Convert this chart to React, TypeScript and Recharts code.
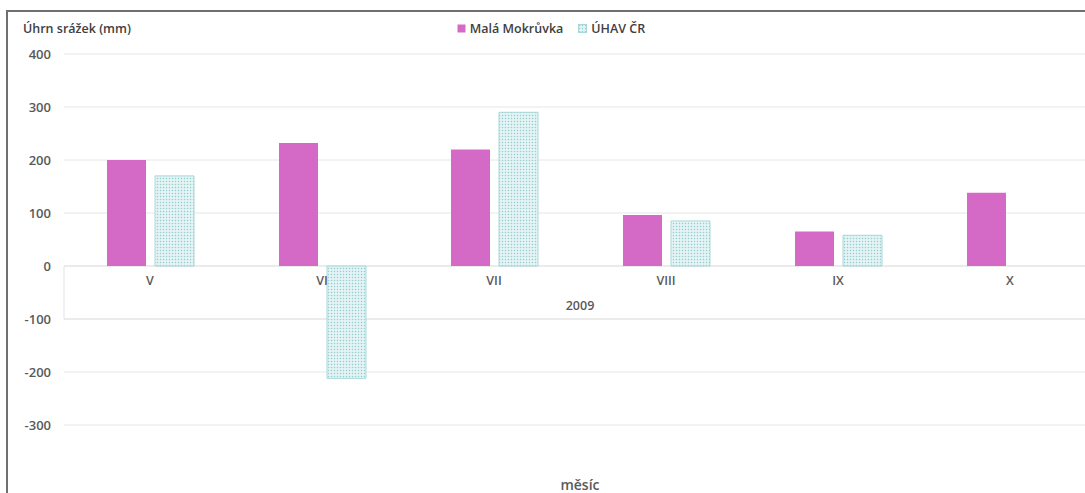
import { Bar, BarChart, CartesianGrid, ReferenceArea, XAxis, YAxis } from "recharts";

const months = ["V", "VI", "VII", "VIII", "IX", "X"];
const malaMokruvka = [200, 232, 220, 96, 65, 138];
const uhavCr: Array<number | null> = [170, -212, 290, 85, 58, null];
const yTicks = [-300, -200, -100, 0, 100, 200, 300, 400];

const data = months.map((m, i) => ({ month: m, mala: malaMokruvka[i], uhav: uhavCr[i] }));

const PINK = "#d46ac6";
const TEXT = "#595959";
const FONT = "'Open Sans', sans-serif";

const PLOT_TOP = 54;
const PLOT_BOTTOM = 478;
const ZERO_Y = PLOT_TOP + (PLOT_BOTTOM - PLOT_TOP) / 2;

function MonthTick(props: any) {
  const { x, payload } = props;
  return (
    <text x={x} y={ZERO_Y + 19} textAnchor="middle" fill={TEXT} fontSize={12.5} fontWeight={600} fontFamily={FONT}>
      {payload.value}
    </text>
  );
}

const legendItems = [
  { label: "Malá Mokrůvka", fill: PINK, stroke: "none" },
  { label: "ÚHAV ČR", fill: "url(#uhavDots)", stroke: "#a9d8da" },
];

function LegendBox() {
  return (
    <div
      style={{
        position: "absolute", left: 0, top: 20, width: 1102, display: "flex", justifyContent: "center", gap: 15,
        fontFamily: FONT, fontSize: 12.5, fontWeight: 600, color: "#404040",
      }}
    >
      {legendItems.map((it) => (
        <span key={it.label} style={{ display: "inline-flex", alignItems: "center", gap: 4 }}>
          <svg width={9} height={9}>
            <rect x={0.5} y={0.5} width={8} height={8} fill={it.fill} stroke={it.stroke} />
          </svg>
          {it.label}
        </span>
      ))}
    </div>
  );
}

export default function App() {
  return (
    <div style={{ position: "absolute", left: 0, top: 0, width: 1085, height: 493, overflow: "hidden", background: "#fff" }}>
      <div style={{ position: "absolute", left: 6, top: 10, right: -20, bottom: -20, borderTop: "2px solid #6f6f6f", borderLeft: "2px solid #6f6f6f" }} />
      <div style={{ position: "absolute", left: 23, top: 20, fontFamily: FONT, fontSize: 12.5, fontWeight: 600, color: "#404040" }}>
        Úhrn srážek (mm)
      </div>
      <BarChart
        width={1100}
        height={493}
        data={data}
        margin={{ top: PLOT_TOP, right: 4, bottom: 0, left: 0 }}
        barCategoryGap="25%"
        barGap={9}
        style={{ position: "absolute", left: 0, top: 0 }}
      >
        <defs>
          <pattern id="uhavDots" width={3} height={3} patternUnits="userSpaceOnUse">
            <rect width={3} height={3} fill="#e4f4f4" />
            <circle cx={1.5} cy={1.5} r={0.75} fill="#93cdd0" />
          </pattern>
        </defs>
        <CartesianGrid vertical={false} stroke="#e6e6e6" horizontalValues={yTicks} />
        <XAxis
          dataKey="month"
          height={15}
          axisLine={false}
          tickLine={false}
          tick={<MonthTick />}
          label={{ value: "měsíc", position: "center", fill: TEXT, fontSize: 14, fontWeight: 600, fontFamily: FONT }}
        />
        <YAxis
          width={64}
          domain={[-400, 400]}
          ticks={yTicks}
          axisLine={false}
          tickLine={false}
          tickSize={0}
          tickMargin={13}
          tick={{ fill: TEXT, fontSize: 13, fontWeight: 600, fontFamily: FONT }}
        />
        <ReferenceArea
          x1="V"
          x2="X"
          y1={-100}
          y2={0}
          fill="none"
          stroke="#e3e3e3"
          ifOverflow="visible"
          label={{ value: "2009", position: "insideBottom", offset: 9, fill: TEXT, fontSize: 12.5, fontWeight: 600, fontFamily: FONT }}
        />
        <Bar dataKey="mala" name="Malá Mokrůvka" fill={PINK} isAnimationActive={false} />
        <Bar dataKey="uhav" name="ÚHAV ČR" fill="url(#uhavDots)" stroke="#a9d8da" isAnimationActive={false} />
      </BarChart>
      <LegendBox />
    </div>
  );
}
